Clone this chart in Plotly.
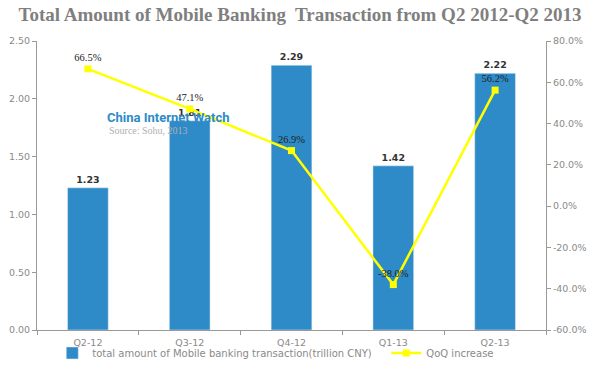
import plotly.graph_objects as go

quarters = ["Q2-12", "Q3-12", "Q4-12", "Q1-13", "Q2-13"]
amount = [1.23, 1.81, 2.29, 1.42, 2.22]
qoq = [66.5, 47.1, 26.9, -38.0, 56.2]
left_ticks = [0, 0.5, 1.0, 1.5, 2.0, 2.5]
right_ticks = [-60, -40, -20, 0, 20, 40, 60, 80]

tickfont = dict(family="DejaVu Sans", size=9.5, color="#8a8a8a")

fig = go.Figure()
fig.add_trace(go.Bar(
    x=quarters, y=amount,
    name="total amount of Mobile banking transaction(trillion CNY)\u00a0\u00a0\u00a0",
    marker=dict(color="#2e8bc8"), width=0.4,
    text=[f"<b>{v:.2f}</b>" for v in amount], textposition="outside",
    textfont=dict(family="DejaVu Sans", size=9.5, color="#333333"),
    cliponaxis=False,
))
fig.add_trace(go.Scatter(
    x=quarters, y=qoq, name="QoQ increase", yaxis="y2", mode="lines+markers+text",
    line=dict(color="#ffff00", width=2.5),
    marker=dict(symbol="square", size=7, color="#ffff00"),
    text=[f"{v:.1f}%" for v in qoq], textposition="top center",
    textfont=dict(family="Liberation Serif", size=10.5, color="#222222"),
    cliponaxis=False,
))

fig.update_layout(
    width=600, height=365,
    margin=dict(l=37, r=54, t=41, b=35),
    paper_bgcolor="white", plot_bgcolor="white",
    title=dict(text="<b>Total Amount of Mobile Banking  Transaction from Q2 2012-Q2 2013</b>",
               x=0.5, xanchor="center", y=0.962, yanchor="middle",
               font=dict(family="Liberation Serif", size=19, color="#7f7f7f")),
    xaxis=dict(showline=True, linecolor="#999999", ticks="outside", tickson="boundaries",
               ticklen=4, tickcolor="#999999", tickfont=tickfont, showgrid=False,
               automargin=False, ticklabelstandoff=4),
    yaxis=dict(range=[0, 2.5], tickvals=left_ticks, tickformat=".2f", showline=True,
               linecolor="#999999", ticks="outside", ticklen=4, tickcolor="#999999",
               tickfont=tickfont, showgrid=False, zeroline=False, automargin=False),
    yaxis2=dict(range=[-60, 80], tickvals=right_ticks,
                ticktext=[f"{v:.1f}%" for v in right_ticks], overlaying="y", side="right",
                showline=True, linecolor="#999999", ticks="outside", ticklen=4,
                tickcolor="#999999", tickfont=tickfont, showgrid=False, zeroline=False,
                automargin=False),
    legend=dict(orientation="h", x=0.03, xanchor="left", yref="container", y=0.033,
                yanchor="middle", bgcolor="rgba(0,0,0,0)",
                font=dict(family="DejaVu Sans", size=10, color="#8a8a8a"),
                itemwidth=30, tracegroupgap=0),
    showlegend=True,
    annotations=[
        dict(text="<b>China Internet Watch</b>", xref="paper", yref="paper",
             x=0.134, y=0.735, xanchor="left", yanchor="middle", showarrow=False,
             font=dict(family="Liberation Sans Narrow, Roboto", size=13, color="#2e8bc8")),
        dict(text="Source: Sohu, 2013", xref="paper", yref="paper",
             x=0.138, y=0.69, xanchor="left", yanchor="middle", showarrow=False,
             font=dict(family="Liberation Serif", size=10, color="#b0b0b0")),
    ],
)

fig.write_html("out.html", config={"displayModeBar": False},
               post_script="document.body.style.margin='0px';")
